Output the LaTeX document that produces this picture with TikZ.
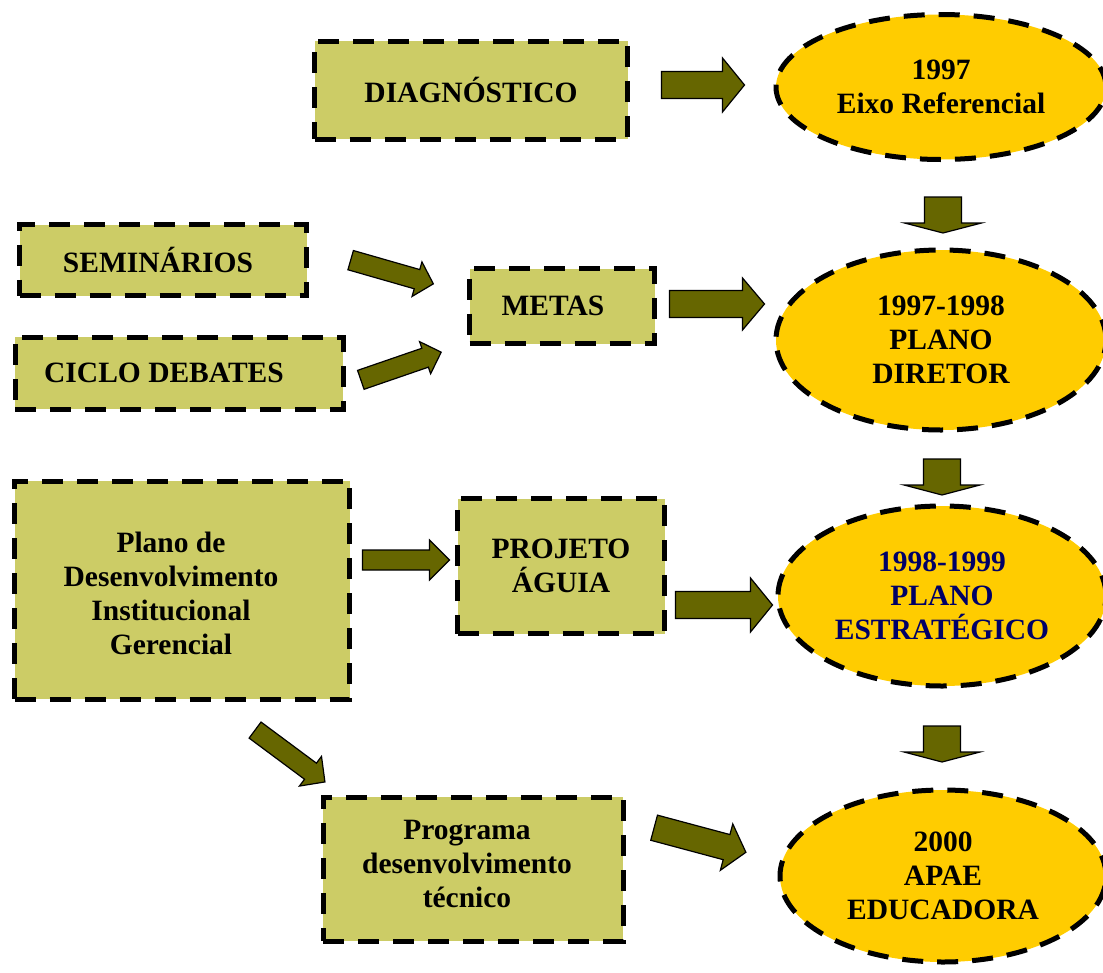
\documentclass[tikz,border=0pt]{standalone}
\usepackage{fontspec}
\setmainfont{Liberation Serif}
\usetikzlibrary{shapes.geometric}
\definecolor{boxfill}{RGB}{204,204,102}
\definecolor{ellfill}{RGB}{255,204,0}
\definecolor{arrfill}{RGB}{102,102,0}
\definecolor{navytext}{RGB}{0,0,102}
\tikzset{
  every node/.style={font=\fontsize{29.5}{34}\selectfont\bfseries, align=center},
  dashbox/.style={draw=black, fill=boxfill, line width=5pt, dash pattern=on 21pt off 14pt, rectangle, inner sep=0pt},
  dashell/.style={draw=black, fill=ellfill, line width=5pt, dash pattern=on 21pt off 14pt, ellipse, inner sep=0pt},
  arrowsty/.style={draw=black, fill=arrfill, line width=1.2pt, line join=miter},
}
\newcommand\stack[1]{\begin{tabular}{@{}c@{}}#1\end{tabular}}
% name, x, y, angle, length, shaft, head width, head length
\newcommand\blockarr[8]{%
  \begin{scope}[shift={(#2,#3)},rotate=#4]
    \coordinate (#1) at (0,0);
    \draw[arrowsty] ({-#5/2},{-#6/2}) -- ({#5/2-#8},{-#6/2}) -- ({#5/2-#8},{-#7/2}) -- ({#5/2},0)
      -- ({#5/2-#8},{#7/2}) -- ({#5/2-#8},{#6/2}) -- ({-#5/2},{#6/2}) -- cycle;
  \end{scope}}
\begin{document}
\begin{tikzpicture}[x=1pt,y=-1pt]
\useasboundingbox (0,0) rectangle (1103,972);
% boxes
\node[dashbox, minimum width=313pt, minimum height=98pt] (diag) at (471,90) {DIAGNÓSTICO};
\node[dashbox, minimum width=287pt, minimum height=71pt] (sem) at (163,260) {SEMINÁRIOS\hspace*{10pt}};
\node[dashbox, minimum width=328pt, minimum height=72pt] (ciclo) at (179,373) {CICLO DEBATES\hspace*{30pt}};
\node[dashbox, minimum width=185pt, minimum height=75pt] (metas) at (562,306) {METAS\hspace*{18pt}};
\node[dashbox, minimum width=335pt, minimum height=218pt] (pdig) at (182,590) {\raisebox{-13.4pt}[0pt][0pt]{\stack{Plano de\\Desenvolvimento\\Institucional\\Gerencial}}\hspace*{22pt}};
\node[dashbox, minimum width=207pt, minimum height=135pt] (aguia) at (561,566) {PROJETO\\ÁGUIA};
\node[dashbox, minimum width=300pt, minimum height=144pt] (prog) at (473,869) {\raisebox{-4.4pt}[0pt][0pt]{\stack{Programa\\desenvolvimento\\técnico}}\hspace*{12pt}};
% ellipses
\node[dashell, minimum width=330pt, minimum height=145pt] (e1) at (941,87) {1997\\Eixo Referencial};
\node[dashell, minimum width=330pt, minimum height=180pt] (e2) at (941,340) {1997-1998\\PLANO\\DIRETOR};
\node[dashell, minimum width=328pt, minimum height=180pt, text=navytext] (e3) at (942,596) {1998-1999\\PLANO\\ESTRATÉGICO};
\node[dashell, minimum width=326pt, minimum height=172pt] (e4) at (943,876) {2000\\APAE\\EDUCADORA};
% block arrows
\blockarr{a1}{703}{85}{0}{83}{27}{54}{22}
\blockarr{d1}{943}{215}{-90}{36}{37}{77}{10}
\blockarr{a2}{392}{272}{-16}{86}{20}{36}{17}
\blockarr{a3}{401}{366}{19}{85}{20}{34}{17}
\blockarr{a4}{717}{304}{0}{95}{27}{52}{22}
\blockarr{d2}{942}{477}{-90}{36}{37}{76}{10}
\blockarr{a5}{406}{560}{0}{87}{20}{40}{20}
\blockarr{a6}{724}{605}{0}{97}{27}{54}{22}
\blockarr{d3}{942}{744}{-90}{36}{37}{76}{10}
\blockarr{a7}{290}{756}{-36.6}{87}{20}{37}{18}
\blockarr{a8}{700}{840}{-15}{95}{26}{48}{20}
\end{tikzpicture}
\end{document}
